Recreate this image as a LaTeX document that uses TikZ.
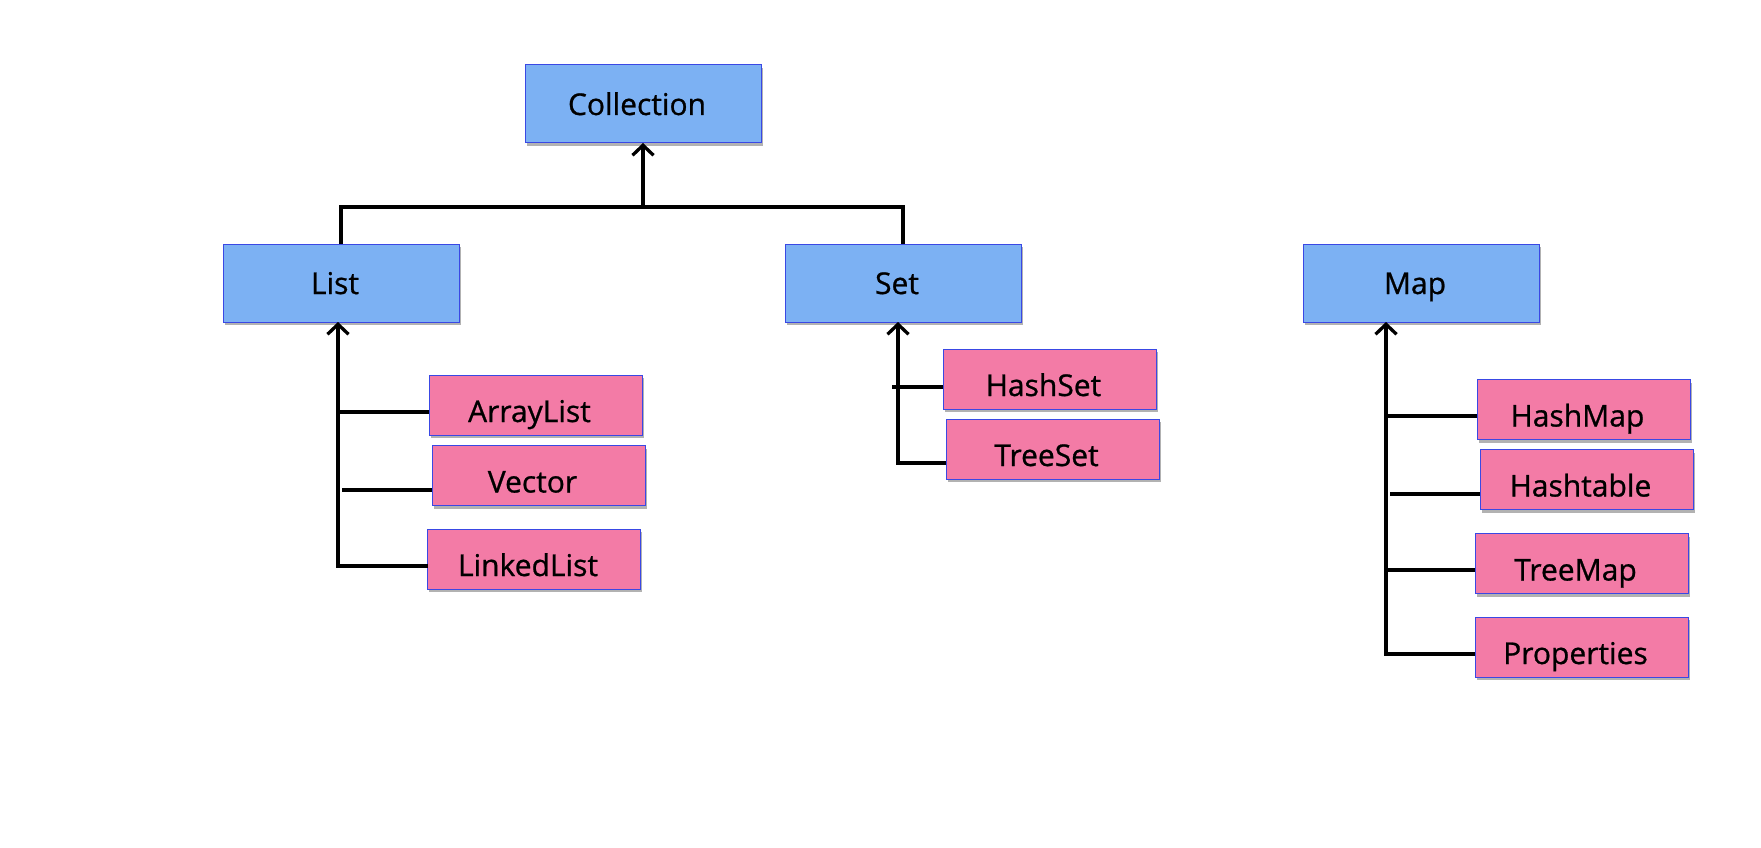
\documentclass[tikz,border=0pt]{standalone}
\usepackage{fontspec}
\setmainfont{Open Sans}
\newfontfamily\medfont{Open Sans}[FakeBold=0.8]
\usetikzlibrary{arrows.meta,shadows}
\definecolor{boxblue}{RGB}{124,177,243}
\definecolor{edgeblue}{RGB}{58,72,228}
\definecolor{boxpink}{RGB}{243,123,166}
\tikzset{
  base/.style={draw=edgeblue, line width=1pt, inner sep=0pt, outer sep=0pt,
    font=\medfont\fontsize{30}{30}\selectfont, text depth=0pt,
    execute at end node={\kern12pt},
    drop shadow={shadow xshift=1.5pt, shadow yshift=-3pt, opacity=0.3, fill=black}},
  iface/.style={base, fill=boxblue, minimum width=236pt, minimum height=78pt, text height=22pt},
  impl/.style={base, fill=boxpink, minimum width=213pt, minimum height=60pt, text height=34pt},
  conn/.style={line width=3.3pt, draw=black},
  arr/.style={conn, -{Straight Barb[length=10pt,width=21pt]}}
}
\begin{document}
\begin{tikzpicture}[x=1pt,y=-1pt]
\useasboundingbox[fill=white] (0,0) rectangle (1761,848);
% interfaces
\node[iface] (Collection) at (643,104) {Collection};
\node[iface] (List) at (341,283) {List};
\node[iface] (Set) at (903,283) {Set};
\node[iface] (Map) at (1421,283) {Map};
% implementations
\node[impl] (ArrayList) at (535.5,405) {ArrayList};
\node[impl] (Vector) at (538.5,475.5) {Vector};
\node[impl] (LinkedList) at (534,559) {LinkedList};
\node[impl] (HashSet) at (1049.5,379) {HashSet};
\node[impl] (TreeSet) at (1052.5,449) {TreeSet};
\node[impl] (HashMap) at (1583.5,409.5) {HashMap};
\node[impl] (Hashtable) at (1586.5,479.5) {Hashtable};
\node[impl] (TreeMap) at (1581.5,563.5) {TreeMap};
\node[impl] (Properties) at (1581.5,647) {Properties};
% collection tree
\coordinate (junc) at (643,207);
\draw[conn] (List.north) -- (List.north |- junc) -- (Set.north |- junc) -- (Set.north);
\draw[arr] (junc) -- (Collection.south);
% list tree
\coordinate (Lx) at ([xshift=-3pt]List.south);
\coordinate (alT) at ([yshift=-7pt]ArrayList.west);
\coordinate (veT) at ([yshift=-14.5pt]Vector.west);
\coordinate (veS) at (veT -| Lx);
\coordinate (llT) at ([yshift=-7pt]LinkedList.west);
\draw[arr] (llT) -| (Lx);
\draw[conn] (alT) -- (alT -| Lx);
\draw[conn] (veT) -- ([xshift=4pt]veS);
% set tree
\coordinate (Sx) at ([xshift=-5pt]Set.south);
\coordinate (hsT) at ([yshift=-8pt]HashSet.west);
\coordinate (hsS) at (hsT -| Sx);
\coordinate (tsT) at ([yshift=-14pt]TreeSet.west);
\draw[arr] (tsT) -| (Sx);
\draw[conn] (hsT) -- ([xshift=-6pt]hsS);
% map tree
\coordinate (Mx) at ([xshift=-35pt]Map.south);
\coordinate (hmT) at ([yshift=-6.5pt]HashMap.west);
\coordinate (htT) at ([yshift=-14.5pt]Hashtable.west);
\coordinate (htS) at (htT -| Mx);
\coordinate (tmT) at ([yshift=-6.5pt]TreeMap.west);
\coordinate (prT) at ([yshift=-7pt]Properties.west);
\draw[arr] (prT) -| (Mx);
\draw[conn] (hmT) -- (hmT -| Mx);
\draw[conn] (htT) -- ([xshift=4pt]htS);
\draw[conn] (tmT) -- (tmT -| Mx);
\end{tikzpicture}
\end{document}
